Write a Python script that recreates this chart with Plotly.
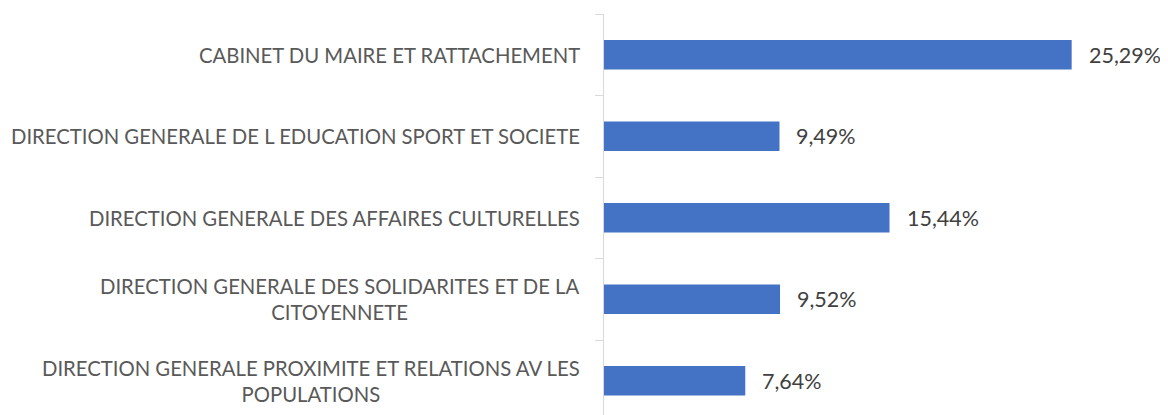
import plotly.graph_objects as go

categories = [
    "CABINET DU MAIRE ET RATTACHEMENT",
    "DIRECTION GENERALE DE L EDUCATION SPORT ET SOCIETE",
    "DIRECTION GENERALE DES AFFAIRES CULTURELLES",
    "DIRECTION GENERALE DES SOLIDARITES ET DE LA<br>CITOYENNETE",
    "DIRECTION GENERALE PROXIMITE ET RELATIONS AV LES<br>POPULATIONS",
]
values = [25.29, 9.49, 15.44, 9.52, 7.64]
value_labels = ["25,29%", "9,49%", "15,44%", "9,52%", "7,64%"]

FONT = "Lato"

fig = go.Figure()
fig.add_trace(go.Bar(
    y=categories, x=values, orientation="h",
    marker=dict(color="#4472C4", line=dict(width=0)),
    width=0.36,
    hoverinfo="skip",
))

for c, v, t in zip(categories, values, value_labels):
    fig.add_annotation(x=v, y=c, xref="x", yref="y", text=t, showarrow=False,
                       xanchor="left", xshift=15,
                       font=dict(family=FONT, size=21.5, color="#404040"))
    fig.add_annotation(x=0, y=c, xref="paper", yref="y", text=c, showarrow=False,
                       xanchor="right", xshift=-22, align="center",
                       font=dict(family=FONT, size=20.3, color="#595959"))

fig.update_layout(
    width=1160, height=407,
    margin=dict(l=596, r=0, t=6, b=0),
    paper_bgcolor="white", plot_bgcolor="white",
    showlegend=False,
    xaxis=dict(visible=False, range=[0, 30.5]),
    yaxis=dict(type="category", categoryorder="array", categoryarray=categories,
               range=[4.42, -0.5], showticklabels=False,
               showline=True, linecolor="#d9d9d9", linewidth=1,
               ticks="outside", tickson="boundaries", ticklen=8, tickcolor="#d9d9d9",
               showgrid=False, zeroline=False),
)

fig.write_html("out.html")
